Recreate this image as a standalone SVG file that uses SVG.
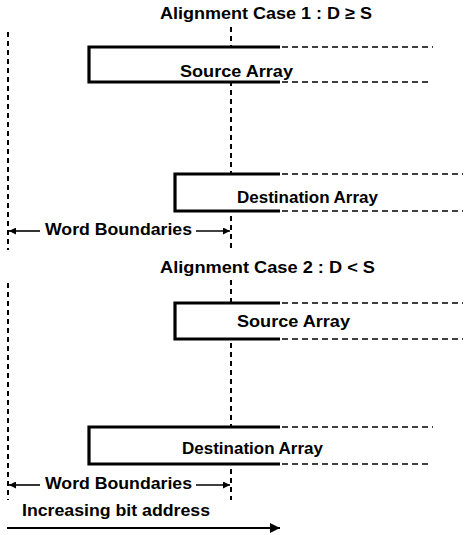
<svg xmlns="http://www.w3.org/2000/svg" width="469" height="535" viewBox="0 0 469 535">
<style>
text{font-family:"Liberation Sans",Arial,sans-serif;font-weight:bold;font-size:17px;fill:#000}
.vd{stroke:#000;stroke-width:2;stroke-dasharray:5 4;fill:none}
.hd{stroke:#000;stroke-width:1.6;stroke-dasharray:6 4;fill:none}
.box{stroke:#000;stroke-width:3.2;fill:#fff;stroke-linejoin:miter}
.ln{stroke:#000;stroke-width:1.6;fill:none}
</style>
<defs>
<marker id="ah" viewBox="0 0 10 10" refX="10" refY="5" markerWidth="7" markerHeight="7" markerUnits="userSpaceOnUse" orient="auto-start-reverse"><path d="M0,0 L10,5 L0,10 z" fill="#000"/></marker>
<marker id="ah2" viewBox="0 0 10 10" refX="10" refY="5" markerWidth="11" markerHeight="10" markerUnits="userSpaceOnUse" orient="auto"><path d="M0,0 L10,5 L0,10 z" fill="#000"/></marker>
</defs>
<g id="grid">
<line class="vd" x1="8" y1="32" x2="8" y2="250"/>
<line class="vd" x1="231" y1="27" x2="231" y2="250"/>
<line class="vd" x1="8" y1="283" x2="8" y2="500"/>
<line class="vd" x1="231" y1="280" x2="231" y2="500"/>
</g>
<g id="case1-title"><text x="160" y="19" textLength="212" lengthAdjust="spacingAndGlyphs">Alignment Case 1 : D ≥ S</text></g>
<g id="case1-source">
<path class="box" d="M280,47 H89 V82 H280"/>
<line class="hd" x1="282" y1="47" x2="433" y2="47"/>
<line class="hd" x1="282" y1="82" x2="428" y2="82"/>
<text x="180" y="77" textLength="113" lengthAdjust="spacingAndGlyphs">Source Array</text>
</g>
<g id="case1-dest">
<path class="box" d="M280,174 H175 V211 H280"/>
<line class="hd" x1="282" y1="174" x2="463" y2="174"/>
<line class="hd" x1="282" y1="211" x2="463" y2="211"/>
<text x="237" y="203" textLength="141" lengthAdjust="spacingAndGlyphs">Destination Array</text>
</g>
<g id="case1-word"><text x="45" y="235" textLength="147" lengthAdjust="spacingAndGlyphs">Word Boundaries</text></g>
<g id="case2-title"><text x="160" y="273" textLength="215" lengthAdjust="spacingAndGlyphs">Alignment Case 2 : D &lt; S</text></g>
<g id="case2-source">
<path class="box" d="M280,303 H175 V339 H280"/>
<line class="hd" x1="282" y1="303" x2="463" y2="303"/>
<line class="hd" x1="282" y1="339" x2="463" y2="339"/>
<text x="237" y="327" textLength="113" lengthAdjust="spacingAndGlyphs">Source Array</text>
</g>
<g id="case2-dest">
<path class="box" d="M280,427 H89 V464 H280"/>
<line class="hd" x1="282" y1="427" x2="433" y2="427"/>
<line class="hd" x1="282" y1="464" x2="428" y2="464"/>
<text x="182" y="454" textLength="141" lengthAdjust="spacingAndGlyphs">Destination Array</text>
</g>
<g id="case2-word"><text x="45" y="489" textLength="147" lengthAdjust="spacingAndGlyphs">Word Boundaries</text></g>
<g id="address"><text x="22" y="516" textLength="188" lengthAdjust="spacingAndGlyphs">Increasing bit address</text></g>
<g id="connectors">
<line class="ln" x1="40" y1="231" x2="9" y2="231" marker-end="url(#ah)"/>
<line class="ln" x1="196" y1="231" x2="230" y2="231" marker-end="url(#ah)"/>
<line class="ln" x1="40" y1="485" x2="9" y2="485" marker-end="url(#ah)"/>
<line class="ln" x1="196" y1="485" x2="230" y2="485" marker-end="url(#ah)"/>
<line x1="7" y1="528" x2="280" y2="528" stroke="#000" stroke-width="2" marker-end="url(#ah2)"/>
</g>
</svg>
